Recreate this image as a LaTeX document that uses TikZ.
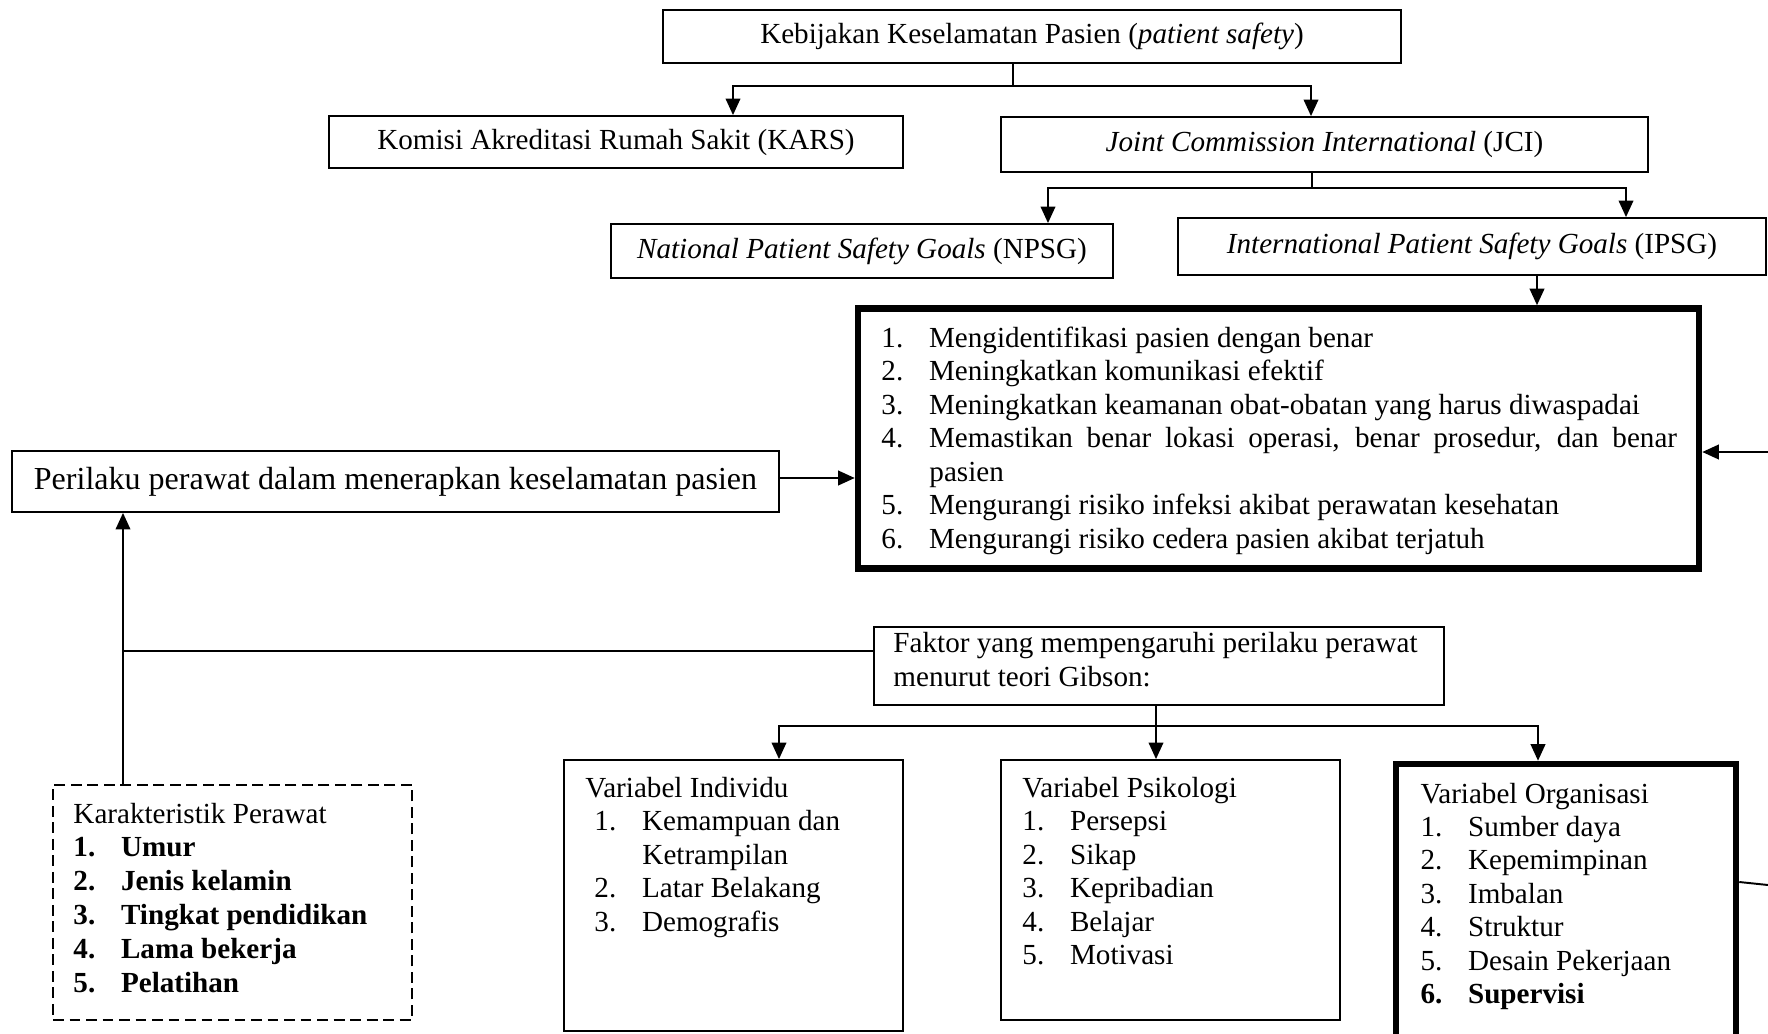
\documentclass[tikz,border=0pt]{standalone}
\usepackage{fontspec}
\setmainfont{Liberation Serif}
\usetikzlibrary{arrows.meta}
\newcommand\itm[2]{\makebox[19.6pt][l]{#1}#2}
\begin{document}
\begin{tikzpicture}[x=0.412pt,y=-0.412pt,
  ln/.style={line width=0.8pt},
  arr/.style={line width=0.8pt,-{Triangle[length=6.8pt,width=6pt]}},
  bx/.style 2 args={draw,line width=0.75pt,inner sep=0pt,minimum width=#1*0.412pt,minimum height=#2*0.412pt,font=\fontsize{12}{13.8}\selectfont},
  thick box/.style={line width=2.7pt},
  tx/.style={anchor=base west,inner sep=0pt,font=\fontsize{12}{13.8}\selectfont},
]
\useasboundingbox (0,0) rectangle (1768,1033);
\clip (0,0) rectangle (1768,1033);
\fill[white] (0,0) rectangle (1768,1033);

% boxes
\node[bx={738}{53}] (top) at (1032,36.5) {Kebijakan Keselamatan Pasien (\textit{patient safety})};
\node[bx={574}{52}] (kars) at (616,142) {Komisi Akreditasi Rumah Sakit (KARS)};
\node[bx={647}{55}] (jci) at (1324.5,144.5) {\textit{Joint Commission International} (JCI)};
\node[bx={502}{54}] (npsg) at (862,251) {\textit{National Patient Safety Goals} (NPSG)};
\node[bx={588}{57}] (ipsg) at (1472,246.5) {\textit{International Patient Safety Goals} (IPSG)};
\node[bx={841}{260},thick box] (goals) at (1278.5,438.5) {};
\node[bx={767}{61},font=\fontsize{13.2}{15}\selectfont] (peri) at (395.5,481.5) {Perilaku perawat dalam menerapkan keselamatan pasien};
\node[bx={570}{78}] (fak) at (1159,666) {};
\node[bx={359}{235},dash pattern=on 4.5pt off 2.3pt] (kar) at (232.5,902.5) {};
\node[bx={339}{271}] (ind) at (733.5,895.5) {};
\node[bx={339}{260}] (psi) at (1170.5,890) {};
\node[bx={340}{281},thick box] (org) at (1566,904.5) {};

% goals list
\node[tx] (g1) at (881,347) {\itm{1.}{Mengidentifikasi pasien dengan benar}};
\node[tx] (g2) at (881,380.5) {\itm{2.}{Meningkatkan komunikasi efektif}};
\node[tx] (g3) at (881,414) {\itm{3.}{Meningkatkan keamanan obat-obatan yang harus diwaspadai}};
\node[tx] (g4) at (881,447.5) {\itm{4.}{\makebox[308.2pt][s]{Memastikan benar lokasi operasi, benar prosedur, dan benar}}};
\node[tx] (g4b) at (929,481) {pasien};
\node[tx] (g5) at (881,514.5) {\itm{5.}{Mengurangi risiko infeksi akibat perawatan kesehatan}};
\node[tx] (g6) at (881,548) {\itm{6.}{Mengurangi risiko cedera pasien akibat terjatuh}};

% faktor text
\node[tx] (f1) at (893,652) {Faktor yang mempengaruhi perilaku perawat};
\node[tx] (f2) at (893,686) {menurut teori Gibson:};

% karakteristik
\node[tx] (k0) at (73,823) {Karakteristik Perawat};
\node[tx] (k1) at (73,856) {\bfseries\itm{1.}{Umur}};
\node[tx] (k2) at (73,890) {\bfseries\itm{2.}{Jenis kelamin}};
\node[tx] (k3) at (73,924) {\bfseries\itm{3.}{Tingkat pendidikan}};
\node[tx] (k4) at (73,958) {\bfseries\itm{4.}{Lama bekerja}};
\node[tx] (k5) at (73,992) {\bfseries\itm{5.}{Pelatihan}};

% individu
\node[tx] (i0) at (585,797) {Variabel Individu};
\node[tx] (i1) at (594,830.5) {\itm{1.}{Kemampuan dan}};
\node[tx] (i1b) at (642,864) {Ketrampilan};
\node[tx] (i2) at (594,897.5) {\itm{2.}{Latar Belakang}};
\node[tx] (i3) at (594,931) {\itm{3.}{Demografis}};

% psikologi
\node[tx] (p0) at (1022,797) {Variabel Psikologi};
\node[tx] (p1) at (1022,830.5) {\itm{1.}{Persepsi}};
\node[tx] (p2) at (1022,864) {\itm{2.}{Sikap}};
\node[tx] (p3) at (1022,897.5) {\itm{3.}{Kepribadian}};
\node[tx] (p4) at (1022,931) {\itm{4.}{Belajar}};
\node[tx] (p5) at (1022,964.5) {\itm{5.}{Motivasi}};

% organisasi
\node[tx] (o0) at (1420,803) {Variabel Organisasi};
\node[tx] (o1) at (1420,836) {\itm{1.}{Sumber daya}};
\node[tx] (o2) at (1420,869.5) {\itm{2.}{Kepemimpinan}};
\node[tx] (o3) at (1420,903) {\itm{3.}{Imbalan}};
\node[tx] (o4) at (1420,936.5) {\itm{4.}{Struktur}};
\node[tx] (o5) at (1420,970) {\itm{5.}{Desain Pekerjaan}};
\node[tx] (o6) at (1420,1003.5) {\bfseries\itm{6.}{Supervisi}};

% connectors top
\coordinate (c1) at (1013,86);
\coordinate (c1a) at (733,86);
\coordinate (c1b) at (1311,86);
\draw[ln] (top.south -| c1) -- (c1);
\draw[arr] (c1) -- (c1a) -- (kars.north -| c1a);
\draw[arr] (c1) -- (c1b) -- (jci.north -| c1b);

\coordinate (c2) at (1312,188);
\coordinate (c2a) at (1048,188);
\coordinate (c2b) at (1626,188);
\draw[ln] (jci.south -| c2) -- (c2);
\draw[arr] (c2) -- (c2a) -- (npsg.north -| c2a);
\draw[arr] (c2) -- (c2b) -- (ipsg.north -| c2b);

\coordinate (c3) at (1537,290);
\draw[arr] (ipsg.south -| c3) -- (goals.north -| c3);

\coordinate (c4) at (800,478);
\draw[arr] (peri.east |- c4) -- (goals.west |- c4);

\coordinate (c5) at (123,651);
\draw[arr] (kar.north -| c5) -- (peri.south -| c5);
\draw[ln] (fak.west |- c5) -- (c5);

\coordinate (c6) at (1156,726);
\coordinate (c6a) at (779,726);
\coordinate (c6b) at (1538,726);
\draw[arr] (fak.south -| c6) -- (psi.north -| c6);
\draw[arr] (c6) -- (c6a) -- (ind.north -| c6a);
\draw[arr] (c6) -- (c6b) -- (org.north -| c6b);

\coordinate (r1) at (1768,452);
\draw[arr] (r1) -- (goals.east |- r1);
\coordinate (r2) at (1768,885);
\coordinate (r2s) at (1740,882);
\draw[ln] (org.east |- r2s) -- (r2);
\end{tikzpicture}
\end{document}
